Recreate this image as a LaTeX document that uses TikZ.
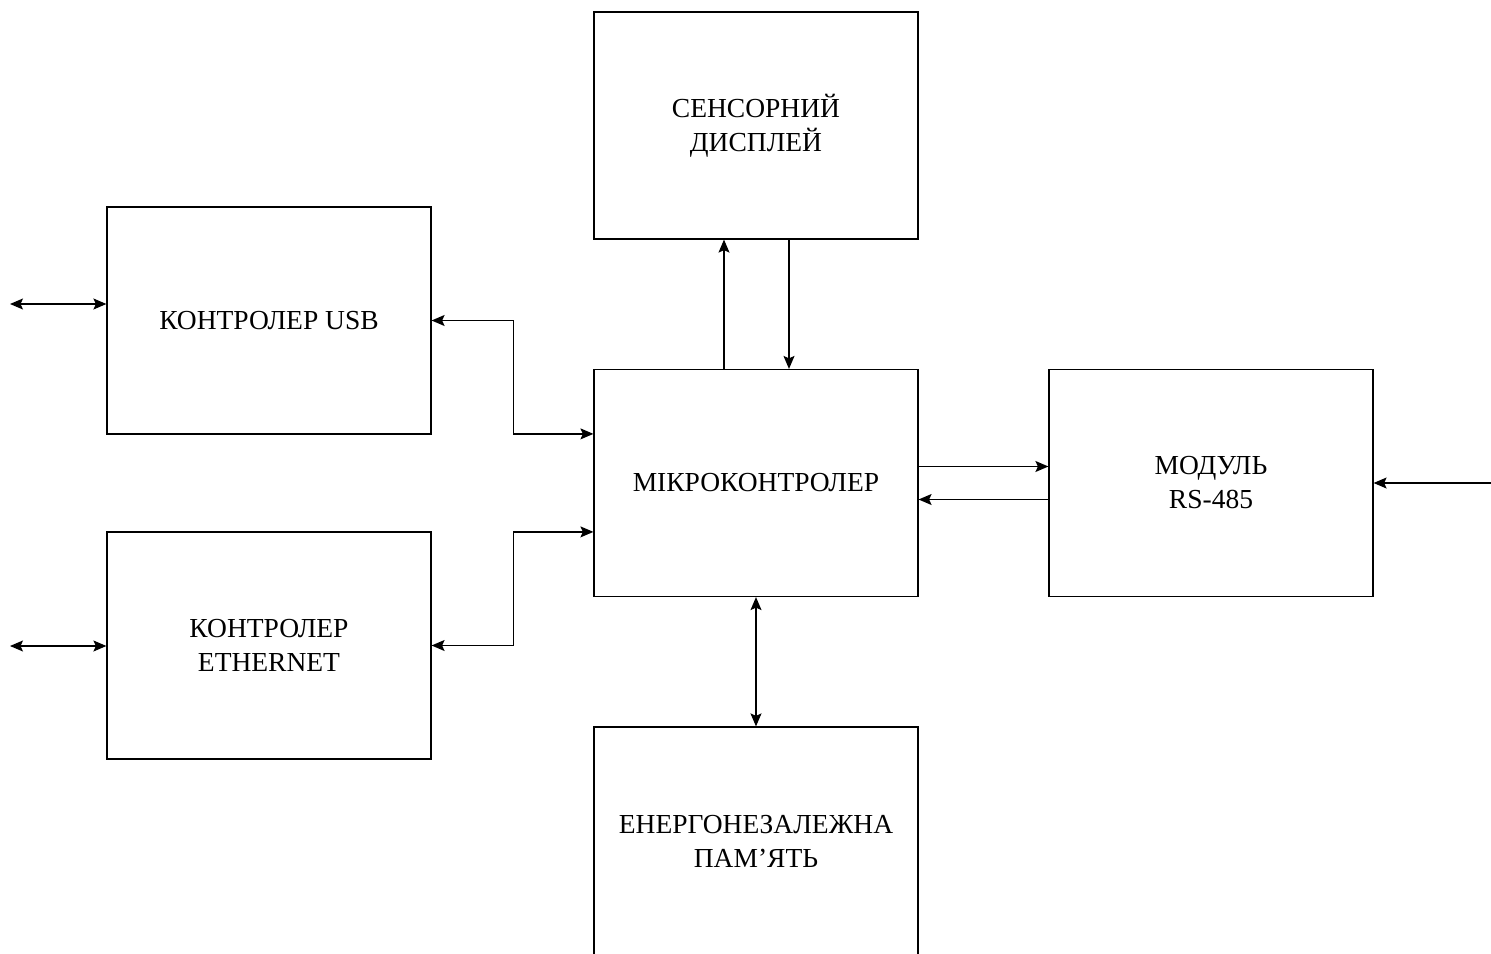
\documentclass[tikz,border=0pt]{standalone}
\usepackage{fontspec}
\setmainfont{Liberation Serif}
\usetikzlibrary{arrows.meta,calc}
\begin{document}
\begin{tikzpicture}[x=1pt,y=-1pt,
  blk/.style={draw,line width=1.2pt,minimum width=324pt,minimum height=227pt,inner sep=0pt,align=center,font=\fontsize{27.5}{34}\selectfont},
  con/.style={line width=1.2pt,-{Stealth[length=13pt,width=11pt,inset=2.5pt]}},
  dcon/.style={line width=1.2pt,{Stealth[length=13pt,width=11pt,inset=2.5pt]}-{Stealth[length=13pt,width=11pt,inset=2.5pt]}}]
\useasboundingbox (0,0) rectangle (1491,953);
\clip (0,0) rectangle (1491,953);
\fill[white] (0,0) rectangle (1491,953);
\node[blk] (disp) at (756,125.5) {СЕНСОРНИЙ\\ДИСПЛЕЙ};
\node[blk] (usb) at (269,320.5) {КОНТРОЛЕР USB};
\node[blk] (mc) at (756,483) {МІКРОКОНТРОЛЕР};
\node[blk] (rs) at (1211,483) {МОДУЛЬ\\RS-485};
\node[blk] (eth) at (269,645.5) {КОНТРОЛЕР\\ETHERNET};
\node[blk,minimum height=229pt] (mem) at (756,841.5) {ЕНЕРГОНЕЗАЛЕЖНА\\ПАМ’ЯТЬ};
\coordinate (usbext) at (10,304);
\coordinate (ethext) at (10,646);
\coordinate (rsext) at (1491,483);
\draw[dcon] (usbext) -- (usbext -| usb.west);
\draw[dcon] (ethext) -- (ethext -| eth.west);
\draw[dcon] (usb.east) -- ++(82,0) |- ([yshift=-65pt]mc.north west);
\draw[dcon] (eth.east) -- ++(82,0) |- ([yshift=-163pt]mc.north west);
\draw[con] ([xshift=-32pt]mc.north) -- ([xshift=-32pt]disp.south);
\draw[con] ([xshift=33pt]disp.south) -- ([xshift=33pt]mc.north);
\draw[con] ([yshift=16.5pt]mc.east) -- ([yshift=16.5pt]rs.west);
\draw[con] ([yshift=-16.5pt]rs.west) -- ([yshift=-16.5pt]mc.east);
\draw[con] (rsext) -- (rs.east);
\draw[dcon] (mc.south) -- (mem.north);
\end{tikzpicture}
\end{document}
